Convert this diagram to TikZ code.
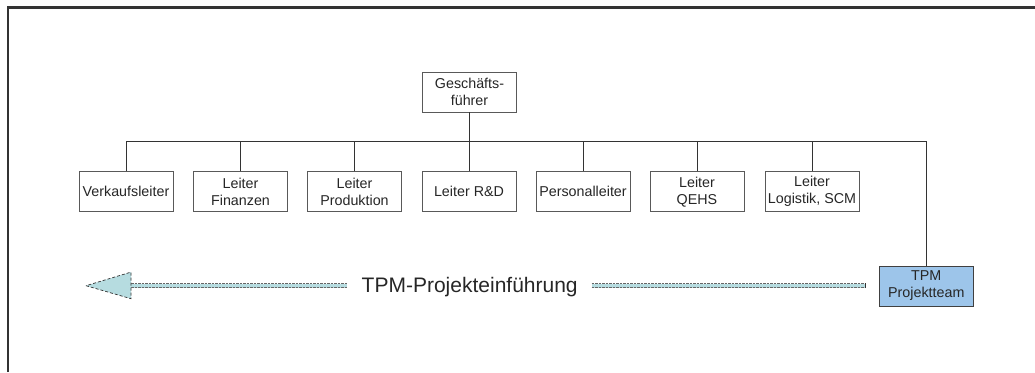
\documentclass[tikz,border=0pt]{standalone}
\usepackage{fontspec}
\setmainfont{Liberation Sans}
\definecolor{teamblue}{RGB}{157,197,234}
\definecolor{arrowfill}{RGB}{182,220,224}
\begin{document}
\begin{tikzpicture}[x=1pt,y=-1pt,
  unit/.style={draw=black!65, line width=0.8pt, fill=white, minimum width=94pt,
    minimum height=40pt, inner sep=1pt, align=center,
    font=\fontsize{14.3}{17}\selectfont, text=black!85},
  link/.style={draw=black!80, line width=0.9pt},
  rail/.style={draw=black!60, line width=0.7pt, dash pattern=on 2.5pt off 1pt},
  headline/.style={draw=black!80, line width=0.7pt, dash pattern=on 3pt off 2pt},
]
\useasboundingbox (0,0) rectangle (1035,372);

% outer frame (top and left edges)
\draw[line width=2.2pt, black!80] (8,372) -- (8,7.5) -- (1035,7.5);

% organisation chart
\node[unit] (gf) at (469.5,92) {Geschäfts-\\führer};
\node[unit] (vk) at (126,191.7) {Verkaufsleiter};
\node[unit] (fi) at (240.5,191.7) {Leiter\\Finanzen};
\node[unit] (pr) at (354.5,191.7) {Leiter\\Produktion};
\node[unit] (rd) at (469,191.7) {Leiter R\&D};
\node[unit] (pl) at (583,191.7) {Personalleiter};
\node[unit] (qe) at (697,191.7) {Leiter\\QEHS};
\node[unit] (lo) at (812,191.7) {Leiter\\Logistik, SCM};
\node[unit, fill=teamblue, draw=black!75] (tpm) at (926.3,286) {TPM\\Projektteam};

\coordinate (bus) at (469,141);
\draw[link] (gf.south) -- (gf.south |- bus);
\draw[link] (vk.north |- bus) -- (tpm.north |- bus) -- (tpm.north);
\foreach \n in {vk,fi,pr,rd,pl,qe,lo}
  \draw[link] (\n.north) -- (\n.north |- bus);

% project rollout arrow
\node[anchor=base, inner sep=0pt, font=\fontsize{21}{24}\selectfont, text=black!85]
  (roll) at (469.7,292) {TPM-Projekteinführung};

\coordinate (tip) at (86,285.7);
\coordinate (hb) at (131,285.7);
\coordinate (l1) at (346.7,285.7);
\coordinate (r0) at (591.7,285.7);
\coordinate (r1) at (865,285.7);

\fill[arrowfill] ([yshift=-2pt]hb) rectangle ([yshift=2pt]l1);
\draw[rail] ([yshift=-2pt]hb) -- ([yshift=-2pt]l1);
\draw[rail] ([yshift=2pt]hb) -- ([yshift=2pt]l1);
\fill[arrowfill] ([yshift=-2pt]r0) rectangle ([yshift=2pt]r1);
\draw[rail] ([yshift=-2pt]r0) -- ([yshift=-2pt]r1);
\draw[rail] ([yshift=2pt]r0) -- ([yshift=2pt]r1);
\draw[black!80, line width=0.8pt] ([yshift=-2.5pt]r1) -- ([yshift=2.5pt]r1);

\filldraw[headline, fill=arrowfill] (tip) -- ([yshift=-13pt]hb) -- ([yshift=13.6pt]hb) -- cycle;
\end{tikzpicture}
\end{document}
